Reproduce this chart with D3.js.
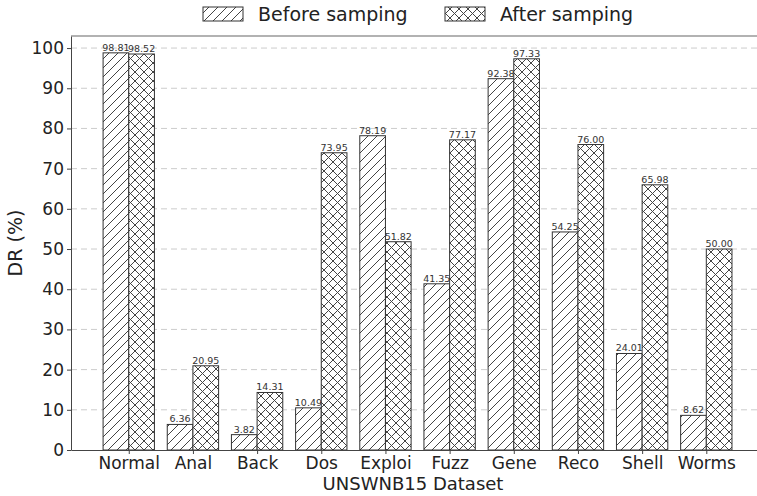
<!DOCTYPE html>
<html>
<head>
<meta charset="utf-8">
<script src="https://cdn.jsdelivr.net/npm/d3@7"></script>
<style>
  body { margin: 0; background: #fff; }
  text { font-family: "DejaVu Sans", sans-serif; fill: #222; }
</style>
</head>
<body>
<div id="chart"></div>
<script>
const categories = ["Normal", "Anal", "Back", "Dos", "Exploi", "Fuzz", "Gene", "Reco", "Shell", "Worms"];
const beforeValues = [98.81, 6.36, 3.82, 10.49, 78.19, 41.35, 92.38, 54.25, 24.01, 8.62];
const afterValues = [98.52, 20.95, 14.31, 73.95, 51.82, 77.17, 97.33, 76.00, 65.98, 50.00];
const yTicks = [0, 10, 20, 30, 40, 50, 60, 70, 80, 90, 100];
const seriesNames = ["Before samping", "After samping"];

const W = 757, H = 496;
const mLeft = 71, mTop = 36, mBottom = 450, mRight = 757;

const svg = d3.select("#chart")
  .append("svg")
  .attr("width", W)
  .attr("height", H);

// patrones de relleno
const defs = svg.append("defs");
const hs = 9;
const p1 = defs.append("pattern").attr("id", "hatch1")
  .attr("patternUnits", "userSpaceOnUse").attr("width", hs).attr("height", hs);
p1.append("rect").attr("width", hs).attr("height", hs).attr("fill", "#fff");
p1.append("path")
  .attr("d", `M0,${hs} L${hs},0 M${-hs/2},${hs/2} L${hs/2},${-hs/2} M${hs/2},${hs*1.5} L${hs*1.5},${hs/2}`)
  .attr("stroke", "#444").attr("stroke-width", 1);

const p2 = defs.append("pattern").attr("id", "hatch2")
  .attr("patternUnits", "userSpaceOnUse").attr("width", hs).attr("height", hs);
p2.append("rect").attr("width", hs).attr("height", hs).attr("fill", "#fff");
p2.append("path")
  .attr("d", `M0,${hs} L${hs},0 M${-hs/2},${hs/2} L${hs/2},${-hs/2} M${hs/2},${hs*1.5} L${hs*1.5},${hs/2}` +
             ` M0,0 L${hs},${hs} M${-hs/2},${hs/2} L${hs/2},${hs*1.5} M${hs/2},${-hs/2} L${hs*1.5},${hs/2}`)
  .attr("stroke", "#444").attr("stroke-width", 1);

const x = d3.scaleLinear().domain([-0.9, 9.79]).range([mLeft, mRight]);
const y = d3.scaleLinear().domain([0, 103]).range([mBottom, mTop]);
const bw = x(0.4) - x(0);

// grid
svg.append("g")
  .selectAll("line")
  .data(yTicks.filter(d => d > 0))
  .join("line")
  .attr("x1", mLeft).attr("x2", mRight)
  .attr("y1", d => y(d)).attr("y2", d => y(d))
  .attr("stroke", "#ccc")
  .attr("stroke-dasharray", "6,4")
  .attr("stroke-width", 1);

const series = [
  { vals: beforeValues, off: -bw, fill: "url(#hatch1)" },
  { vals: afterValues, off: 0, fill: "url(#hatch2)" }
];

series.forEach(s => {
  const g = svg.append("g");
  g.selectAll("rect")
    .data(s.vals)
    .join("rect")
    .attr("x", (d, i) => x(i) + s.off)
    .attr("y", d => y(d))
    .attr("width", bw)
    .attr("height", d => y(0) - y(d))
    .attr("fill", s.fill)
    .attr("stroke", "#333")
    .attr("stroke-width", 1);
  g.selectAll("text")
    .data(s.vals)
    .join("text")
    .attr("x", (d, i) => x(i) + s.off + bw / 2)
    .attr("y", d => y(d) - 2)
    .attr("text-anchor", "middle")
    .attr("font-size", 9.5)
    .style("fill", "#333")
    .text(d => d.toFixed(2));
});

// ejes
const xAxis = svg.append("g")
  .attr("transform", `translate(0,${mBottom})`)
  .call(d3.axisBottom(x).tickValues(d3.range(categories.length))
    .tickFormat(i => categories[i]).tickSize(4).tickSizeOuter(0));
xAxis.select(".domain").attr("stroke", "#444");
xAxis.selectAll("line").attr("stroke", "#444");
xAxis.selectAll("text").attr("font-size", 17).attr("dy", "0.7em")
  .attr("font-family", "DejaVu Sans").style("fill", "#222");

const yAxis = svg.append("g")
  .attr("transform", `translate(${mLeft},0)`)
  .call(d3.axisLeft(y).tickValues(yTicks).tickSize(4).tickSizeOuter(0));
yAxis.select(".domain").attr("stroke", "#444");
yAxis.selectAll("line").attr("stroke", "#444");
yAxis.selectAll("text").attr("font-size", 17)
  .attr("font-family", "DejaVu Sans").style("fill", "#222");

// borde superior
svg.append("line")
  .attr("x1", mLeft).attr("x2", mRight)
  .attr("y1", mTop).attr("y2", mTop)
  .attr("stroke", "#666").attr("stroke-width", 1.2);

// titulos de ejes
svg.append("text")
  .attr("x", 413).attr("y", 490)
  .attr("text-anchor", "middle")
  .attr("font-size", 18)
  .text("UNSWNB15 Dataset");

svg.append("text")
  .attr("transform", "translate(22,243) rotate(-90)")
  .attr("text-anchor", "middle")
  .attr("font-size", 19)
  .text("DR (%)");

// leyenda
const legX = [203, 445];
const leg = svg.append("g");
seriesNames.forEach((name, i) => {
  leg.append("rect")
    .attr("x", legX[i]).attr("y", 7)
    .attr("width", 40).attr("height", 14)
    .attr("fill", i === 0 ? "url(#hatch1)" : "url(#hatch2)")
    .attr("stroke", "#333");
  leg.append("text")
    .attr("x", legX[i] + 55).attr("y", 21)
    .attr("font-size", 19)
    .text(name);
});
</script>
</body>
</html>
